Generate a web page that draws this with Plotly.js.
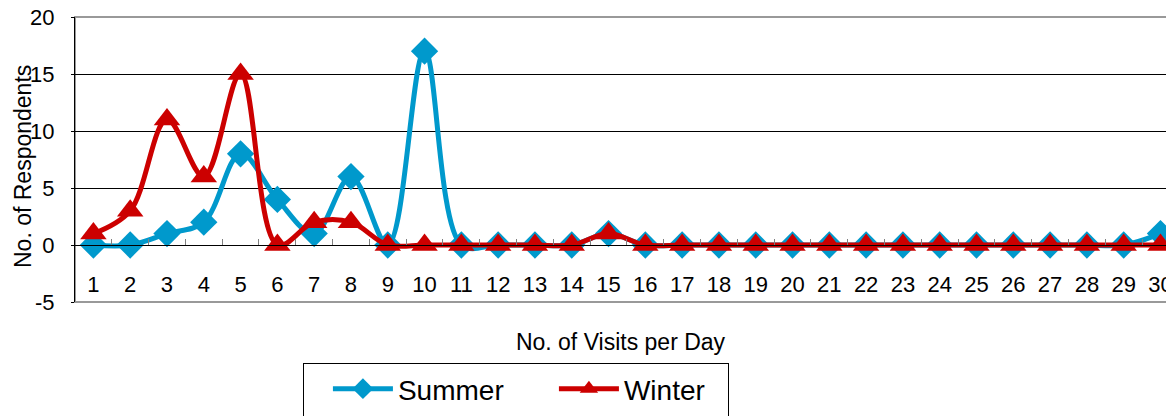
<!DOCTYPE html>
<html>
<head>
<meta charset="utf-8">
<script src="https://cdn.plot.ly/plotly-3.0.1.min.js"></script>
<style>html,body{margin:0;padding:0;background:#fff;}#chart{width:1166px;height:416px;}</style>
</head>
<body>
<div id="chart"></div>
<script>
const visits = ["1","2","3","4","5","6","7","8","9","10","11","12","13","14","15","16","17","18","19","20","21","22","23","24","25","26","27","28","29","30"];
const summer = [0,0,1,2,8,4,1,6,0,17,0,0,0,0,1,0,0,0,0,0,0,0,0,0,0,0,0,0,0,1];
const winter = [1,3,11,6,15,0,2,2,0,0,0,0,0,0,1,0,0,0,0,0,0,0,0,0,0,0,0,0,0,0];
const yTicks = [-5,0,5,10,15,20];
const yTickText = ["-5","0","5","10","15","20"];

const FONT = 'Arial, "Liberation Sans", sans-serif';

const traces = [
  {
    type: 'scatter', mode: 'lines+markers', name: 'Summer',
    x: visits, y: summer,
    line: {color: '#0099CC', width: 5, shape: 'spline', smoothing: 1},
    marker: {symbol: 'diamond', size: 21, color: '#0099CC', line: {width: 0}},
    legendwidth: 151,
    cliponaxis: false
  },
  {
    type: 'scatter', mode: 'lines+markers', name: 'Winter',
    x: visits, y: winter,
    line: {color: '#CC0000', width: 5, shape: 'spline', smoothing: 1},
    marker: {symbol: 'triangle-up', size: 23, color: '#CC0000', line: {width: 0}},
    legendwidth: 99,
    cliponaxis: false
  }
];

const layout = {
  width: 1166, height: 416,
  margin: {l: 75, r: 0, t: 17, b: 114, autoexpand: false},
  paper_bgcolor: '#ffffff', plot_bgcolor: '#ffffff',
  font: {family: FONT, color: '#000', size: 22},
  showlegend: true,
  xaxis: {
    type: 'category',
    categoryorder: 'array', categoryarray: visits,
    range: [-0.5, 29.15],
    anchor: 'free', position: 0.2,
    showline: true, linecolor: '#000', linewidth: 1,
    ticks: 'inside', tickson: 'boundaries', ticklen: 6, tickcolor: '#808080', tickwidth: 1,
    showgrid: false, zeroline: false,
    tickfont: {size: 22, family: FONT},
    ticklabelstandoff: 20,
    title: {text: 'No. of Visits per Day', font: {size: 23, family: FONT}, standoff: 37}
  },
  yaxis: {
    range: [-5, 20],
    tickvals: yTicks, ticktext: yTickText,
    showgrid: true, gridcolor: '#000', gridwidth: 1,
    showline: true, linecolor: '#000', linewidth: 1,
    ticks: 'outside', ticklen: 3, tickcolor: '#000',
    zeroline: false,
    tickfont: {size: 22, family: FONT},
    ticklabelstandoff: 12
  },
  annotations: [
    {text: 'No. of Respondents', textangle: -90, xref: 'paper', yref: 'paper',
     x: -0.0477, y: 0.477, xanchor: 'center', yanchor: 'middle', showarrow: false,
     font: {size: 23, family: FONT, color: '#000'}}
  ],
  shapes: [
    {type: 'rect', xref: 'paper', yref: 'paper', x0: 0, x1: 1.02, y0: 0, y1: 1,
     line: {color: '#999999', width: 2}, layer: 'below'}
  ],
  legend: {
    orientation: 'h',
    x: 0.209, xanchor: 'left',
    y: -0.214, yanchor: 'top',
    bordercolor: '#000', borderwidth: 1,
    font: {size: 28, family: FONT},
    itemwidth: 60,
    valign: 'middle',
    title: {text: '\u00a0', side: 'left', font: {size: 50, family: FONT}},
    bgcolor: '#ffffff'
  }
};

Plotly.newPlot('chart', traces, layout, {displayModeBar: false, staticPlot: true});
</script>
</body>
</html>
